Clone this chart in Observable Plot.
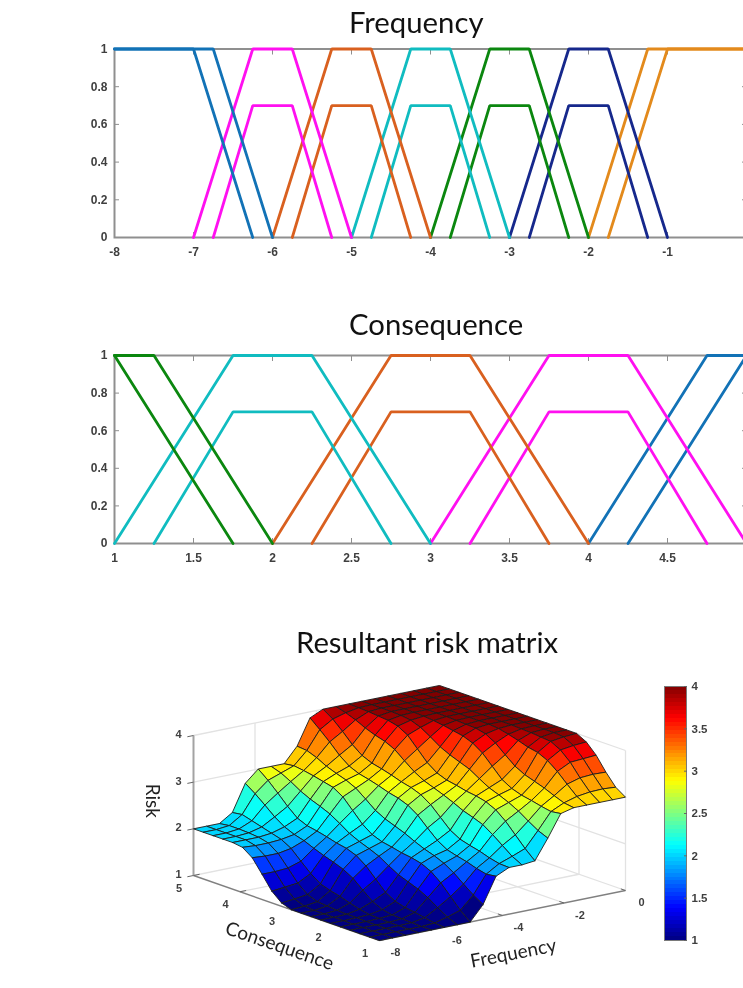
<!DOCTYPE html>
<html>
<head>
<meta charset="utf-8">
<script src="https://cdn.jsdelivr.net/npm/d3@7"></script>
<script src="https://cdn.jsdelivr.net/npm/@observablehq/plot@0.6"></script>
<style>
html,body{margin:0;padding:0;background:#fff;}
#page{position:relative;width:743px;height:988px;overflow:hidden;background:#fff;filter:blur(0.4px);}
.pane{position:absolute;left:0;}
.title{position:absolute;font-family:Lato,"Noto Sans",sans-serif;font-size:29.3px;color:#111;white-space:nowrap;line-height:32px;}
</style>
</head>
<body>
<div id="page"></div>
<script>
// ---- Frequency membership functions: [x, membership]
const freqBlueOuter = [[-8,1],[-6.75,1],[-6,0]];
const freqBlueInner = [[-8,1],[-7,1],[-6.25,0]];
const freqMagentaOuter = [[-7,0],[-6.25,1],[-5.75,1],[-5,0]];
const freqMagentaInner = [[-6.75,0],[-6.25,0.7],[-5.75,0.7],[-5.25,0]];
const freqBrownOuter = [[-6,0],[-5.25,1],[-4.75,1],[-4,0]];
const freqBrownInner = [[-5.75,0],[-5.25,0.7],[-4.75,0.7],[-4.25,0]];
const freqCyanOuter = [[-5,0],[-4.25,1],[-3.75,1],[-3,0]];
const freqCyanInner = [[-4.75,0],[-4.25,0.7],[-3.75,0.7],[-3.25,0]];
const freqGreenOuter = [[-4,0],[-3.25,1],[-2.75,1],[-2,0]];
const freqGreenInner = [[-3.75,0],[-3.25,0.7],[-2.75,0.7],[-2.25,0]];
const freqNavyOuter = [[-3,0],[-2.25,1],[-1.75,1],[-1,0]];
const freqNavyInner = [[-2.75,0],[-2.25,0.7],[-1.75,0.7],[-1.25,0]];
const freqOrangeOuter = [[-2,0],[-1.25,1],[0,1]];
const freqOrangeInner = [[-1.75,0],[-1,1],[0,1]];
// ---- Consequence membership functions
const consGreenOuter = [[1,1],[1.25,1],[2,0]];
const consGreenInner = [[1,1],[1.75,0]];
const consCyanOuter = [[1,0],[1.75,1],[2.25,1],[3,0]];
const consCyanInner = [[1.25,0],[1.75,0.7],[2.25,0.7],[2.75,0]];
const consBrownOuter = [[2,0],[2.75,1],[3.25,1],[4,0]];
const consBrownInner = [[2.25,0],[2.75,0.7],[3.25,0.7],[3.75,0]];
const consMagentaOuter = [[3,0],[3.75,1],[4.25,1],[5,0]];
const consMagentaInner = [[3.25,0],[3.75,0.7],[4.25,0.7],[4.75,0]];
const consBlueOuter = [[4,0],[4.75,1],[5,1]];
const consBlueInner = [[4.25,0],[5,1]];
// ---- Ticks
const freqTicks = [-8,-7,-6,-5,-4,-3,-2,-1,0];
const consTicks = [1,1.5,2,2.5,3,3.5,4,4.5,5];
const memberTicks = [0,0.2,0.4,0.6,0.8,1];
const riskTicks = [1,2,3,4];
const surfFreqTicks = [-8,-6,-4,-2,0];
const surfConsTicks = [1,2,3,4,5];
const barTicks = [1,1.5,2,2.5,3,3.5,4];
// ---- Risk surface: rows from Consequence 1 to 5, columns from Frequency -8 to 0
const risk = [
[1,1,1,1,1,1,1,1,1.32,1.87,2,2,2.03,2.46,2.93,3,3,3,3,3],
[1,1,1,1,1,1.02,1.09,1.18,1.45,1.84,2.01,2.11,2.22,2.55,2.90,3.03,3.11,3.15,3.16,3.14],
[1,1,1,1,1.01,1.06,1.22,1.40,1.61,1.89,2.06,2.27,2.44,2.68,2.94,3.11,3.30,3.38,3.40,3.39],
[1,1,1,1,1.02,1.10,1.36,1.62,1.78,1.96,2.13,2.43,2.66,2.82,2.99,3.20,3.50,3.64,3.66,3.68],
[1,1,1,1.01,1.03,1.13,1.47,1.79,1.91,2.01,2.18,2.57,2.83,2.93,3.03,3.27,3.66,3.83,3.87,3.89],
[1,1,1.01,1.02,1.07,1.19,1.55,1.89,2.00,2.07,2.24,2.65,2.93,3.02,3.10,3.34,3.76,3.94,3.98,4],
[1,1,1.01,1.06,1.17,1.31,1.63,1.94,2.07,2.20,2.36,2.72,2.98,3.10,3.22,3.45,3.80,3.96,4,4],
[1,1,1.02,1.12,1.34,1.52,1.75,1.97,2.16,2.39,2.56,2.82,3.01,3.22,3.43,3.62,3.87,3.98,4,4],
[1,1,1.04,1.19,1.52,1.73,1.88,2.02,2.26,2.59,2.76,2.91,3.06,3.35,3.64,3.80,3.93,3.99,4,4],
[1,1.02,1.06,1.24,1.64,1.88,1.97,2.06,2.34,2.73,2.90,2.99,3.10,3.43,3.78,3.92,3.98,4,4,4],
[1.07,1.10,1.14,1.31,1.72,1.96,2.05,2.14,2.42,2.81,2.98,3.07,3.18,3.51,3.86,3.97,4,4,4,4],
[1.25,1.28,1.31,1.46,1.79,2.00,2.15,2.29,2.53,2.86,3.03,3.19,3.33,3.61,3.90,3.98,4,4,4,4],
[1.54,1.54,1.56,1.65,1.87,2.06,2.29,2.51,2.70,2.93,3.10,3.35,3.55,3.75,3.94,3.99,4,4,4,4],
[1.82,1.80,1.80,1.85,1.96,2.11,2.42,2.73,2.86,2.99,3.16,3.52,3.77,3.88,3.97,4,4,4,4,4],
[1.97,1.95,1.95,1.97,2.02,2.15,2.51,2.86,2.96,3.04,3.21,3.62,3.89,3.96,3.99,4,4,4,4,4],
[2,2,2,2.03,2.11,2.24,2.59,2.91,3.03,3.13,3.30,3.68,3.94,3.99,4,4,4,4,4,4],
[2,2,2.02,2.09,2.25,2.42,2.69,2.96,3.11,3.29,3.46,3.76,3.96,4,4,4,4,4,4,4],
[2,2,2.03,2.15,2.43,2.63,2.82,3,3.22,3.50,3.67,3.86,3.98,4,4,4,4,4,4,4],
[2,2,2.03,2.21,2.60,2.83,2.93,3.03,3.30,3.69,3.86,3.94,3.99,4,4,4,4,4,4,4],
[2,2,2,2.18,2.75,3,3,3,3.32,3.87,4,4,4,4,4,4,4,4,4,4]
];
const jetStops = ["#000080","#0000ff","#0080ff","#00ffff","#80ff80","#ffff00","#ff8000","#ff0000","#800000"];

// ---- Colours
const BLUE="#1272b6", MAGENTA="#ff10f0", BROWN="#d9601f", CYAN="#10bcc0", GREEN="#0b870f", NAVY="#16288c", ORANGE="#e38a1c";
const AXIS="#8f8f8f", LABEL="#3f3f3f";

const page = document.getElementById("page");
function addTitle(text, left, top){
  const d=document.createElement("div"); d.className="title"; d.textContent=text;
  d.style.left=left+"px"; d.style.top=top+"px"; page.appendChild(d);
}
function addPane(svg, top){
  const d=document.createElement("div"); d.className="pane"; d.style.top=top+"px"; d.appendChild(svg); page.appendChild(d);
}
const svgStyle={maxWidth:"none",fontFamily:"'Liberation Sans',Arial,sans-serif",fontSize:"12px",fontWeight:"bold",background:"transparent",overflow:"hidden"};
const plain=d=>String(d);

function memberChart(curves, xDomain, xTicks, height, marginTop, marginBottom){
  const lines=curves.map(([pts,color])=>Plot.line(pts,{x:d=>d[0],y:d=>d[1],stroke:color,strokeWidth:2.8,strokeLinejoin:"miter"}));
  return Plot.plot({
    width:760,height,marginLeft:114,marginRight:14,marginTop,marginBottom,
    style:svgStyle,
    x:{domain:xDomain},y:{domain:[0,1]},
    marks:[
      Plot.frame({stroke:AXIS,strokeWidth:2}),
      Plot.axisX(xTicks,{anchor:"bottom",tickSize:-5,tickPadding:15,label:null,tickFormat:plain,stroke:AXIS,fill:LABEL}),
      Plot.axisX(xTicks,{anchor:"top",tickSize:-5,label:null,tickFormat:()=>"",stroke:AXIS}),
      Plot.axisY(memberTicks,{anchor:"left",tickSize:-5,tickPadding:12,label:null,tickFormat:plain,stroke:AXIS,fill:LABEL}),
      Plot.axisY(memberTicks,{anchor:"right",tickSize:-5,label:null,tickFormat:()=>"",stroke:AXIS}),
      ...lines
    ]
  });
}

addTitle("Frequency",349,6);
addPane(memberChart([
  [freqOrangeOuter,ORANGE],[freqOrangeInner,ORANGE],
  [freqNavyOuter,NAVY],[freqNavyInner,NAVY],
  [freqGreenOuter,GREEN],[freqGreenInner,GREEN],
  [freqCyanOuter,CYAN],[freqCyanInner,CYAN],
  [freqBrownOuter,BROWN],[freqBrownInner,BROWN],
  [freqMagentaOuter,MAGENTA],[freqMagentaInner,MAGENTA],
  [freqBlueInner,BLUE],[freqBlueOuter,BLUE]
],[-8,0],freqTicks,270,48.5,33),0);

addTitle("Consequence",349,308);
addPane(memberChart([
  [consBlueOuter,BLUE],[consBlueInner,BLUE],
  [consMagentaOuter,MAGENTA],[consMagentaInner,MAGENTA],
  [consBrownOuter,BROWN],[consBrownInner,BROWN],
  [consCyanOuter,CYAN],[consCyanInner,CYAN],
  [consGreenOuter,GREEN],[consGreenInner,GREEN]
],[1,5],consTicks,280,55,37),300);

addTitle("Resultant risk matrix",296,626);

// ---- 3-D axonometric view of the surface: normalised box -> view plane
const nF=f=>(f+8)/8, nC=c=>(5-c)/4, nZ=z=>(z-1)/3;
const viewU=(f,c)=>246*nF(f)+186*nC(c);
const viewV=(f,c,z)=>-50*nF(f)+65*nC(c)-140*nZ(z);

const freqGrid=d3.range(20).map(i=>-8+8*i/19);
const consGrid=d3.range(20).map(j=>1+4*j/19);
const cells=[];
for(let i=18;i>=0;i--)for(let j=18;j>=0;j--){
  const id=i+"_"+j, val=risk[j][i];
  [[i,j],[i+1,j],[i+1,j+1],[i,j+1],[i,j]].forEach(([a,b])=>{
    cells.push({id,val,u:viewU(freqGrid[a],consGrid[b]),v:viewV(freqGrid[a],consGrid[b],risk[b][a])});
  });
}
const seg=(f1,c1,z1,f2,c2,z2)=>({x1:viewU(f1,c1),y1:viewV(f1,c1,z1),x2:viewU(f2,c2),y2:viewV(f2,c2,z2)});
const gridSegs=[
  ...riskTicks.map(z=>seg(-8,5,z,0,5,z)),
  ...riskTicks.map(z=>seg(0,5,z,0,1,z)),
  ...[-6,-4,-2,0].map(f=>seg(f,5,1,f,5,4)),
  ...[4,3,2,1].map(c=>seg(0,c,1,0,c,4)),
  ...[-6,-4,-2].map(f=>seg(f,5,1,f,1,1)),
  ...[4,3,2].map(c=>seg(-8,c,1,0,c,1))
];
const edgeSegs=[seg(-8,5,1,-8,1,1),seg(-8,1,1,0,1,1)];
const tickSegs=[
  ...riskTicks.map(z=>seg(-8,5,z,-8.2,5,z)),
  ...surfConsTicks.map(c=>seg(-8,c,1,-7.8,c,1)),
  ...surfFreqTicks.map(f=>seg(f,1,1,f,1.1,1))
];
const lbl={fill:LABEL,fontWeight:"bold",fontSize:11,fontFamily:"'Liberation Sans',Arial,sans-serif"};
const axisT={fill:"#222",fontWeight:"normal",fontSize:19,fontFamily:"Lato,'Noto Sans',sans-serif"};
const linkOpts=(stroke,strokeWidth)=>({x1:"x1",y1:"y1",x2:"x2",y2:"y2",stroke,strokeWidth});

const jet=d3.piecewise(d3.interpolateRgb,jetStops);
const colorScale={type:"linear",domain:[1,4],interpolate:t=>jet(t)};

addPane(Plot.plot({
  width:743,height:320,marginLeft:193,marginRight:118,marginTop:17,marginBottom:48,
  style:svgStyle,
  x:{domain:[0,432],axis:null},y:{domain:[65,-190],axis:null},color:colorScale,
  marks:[
    Plot.link(gridSegs,linkOpts("#e2e2e2",1.3)),
    Plot.link([seg(-8,5,1,-8,5,4)],linkOpts("#a3a3a3",2)),
    Plot.link(edgeSegs,linkOpts("#808080",1.4)),
    Plot.link(tickSegs,linkOpts("#666",1)),
    Plot.line(cells,{x:"u",y:"v",z:"id",fill:"val",stroke:"#1c1c1c",strokeWidth:0.9,strokeLinejoin:"round"}),
    Plot.text(riskTicks,{x:()=>viewU(-8,5),y:z=>viewV(-8,5,z),text:plain,dx:-15,dy:-1,...lbl}),
    Plot.text(surfConsTicks,{x:c=>viewU(-8,c),y:c=>viewV(-8,c,1),text:plain,dx:-14.5,dy:13,...lbl}),
    Plot.text(surfFreqTicks,{x:f=>viewU(f,1),y:f=>viewV(f,1,1),text:plain,dx:16,dy:12,...lbl}),
    Plot.text(["Risk"],{x:()=>viewU(-8,5),y:()=>viewV(-8,5,2.6),text:d=>d,dx:-41,rotate:90,...axisT}),
    Plot.text(["Consequence"],{x:()=>viewU(-8,3),y:()=>viewV(-8,3,1),text:d=>d,dx:-7,dy:38,rotate:19,...axisT}),
    Plot.text(["Frequency"],{x:()=>viewU(-4,1),y:()=>viewV(-4,1,1),text:d=>d,dx:11,dy:38,rotate:-11,...axisT})
  ]
}),668);

// ---- Colour bar
const barLevels=d3.range(64).map(k=>({lo:1+3*k/64,hi:1+3*(k+1)/64,val:1+3*(k+0.5)/64}));
addPane(Plot.plot({
  width:743,height:320,marginLeft:664,marginRight:57,marginTop:18,marginBottom:48,
  style:svgStyle,
  x:{domain:[0,1],axis:null},y:{domain:[1,4]},color:colorScale,
  marks:[
    Plot.rect(barLevels,{x1:()=>0,x2:()=>1,y1:"lo",y2:"hi",fill:"val",shapeRendering:"crispEdges"}),
    Plot.frame({stroke:"#7a7a7a",strokeWidth:1}),
    Plot.axisY(barTicks,{anchor:"right",tickSize:-3,tickPadding:8,label:null,tickFormat:plain,stroke:"#666",fill:LABEL,fontSize:11.5})
  ]
}),668);
</script>
</body>
</html>
